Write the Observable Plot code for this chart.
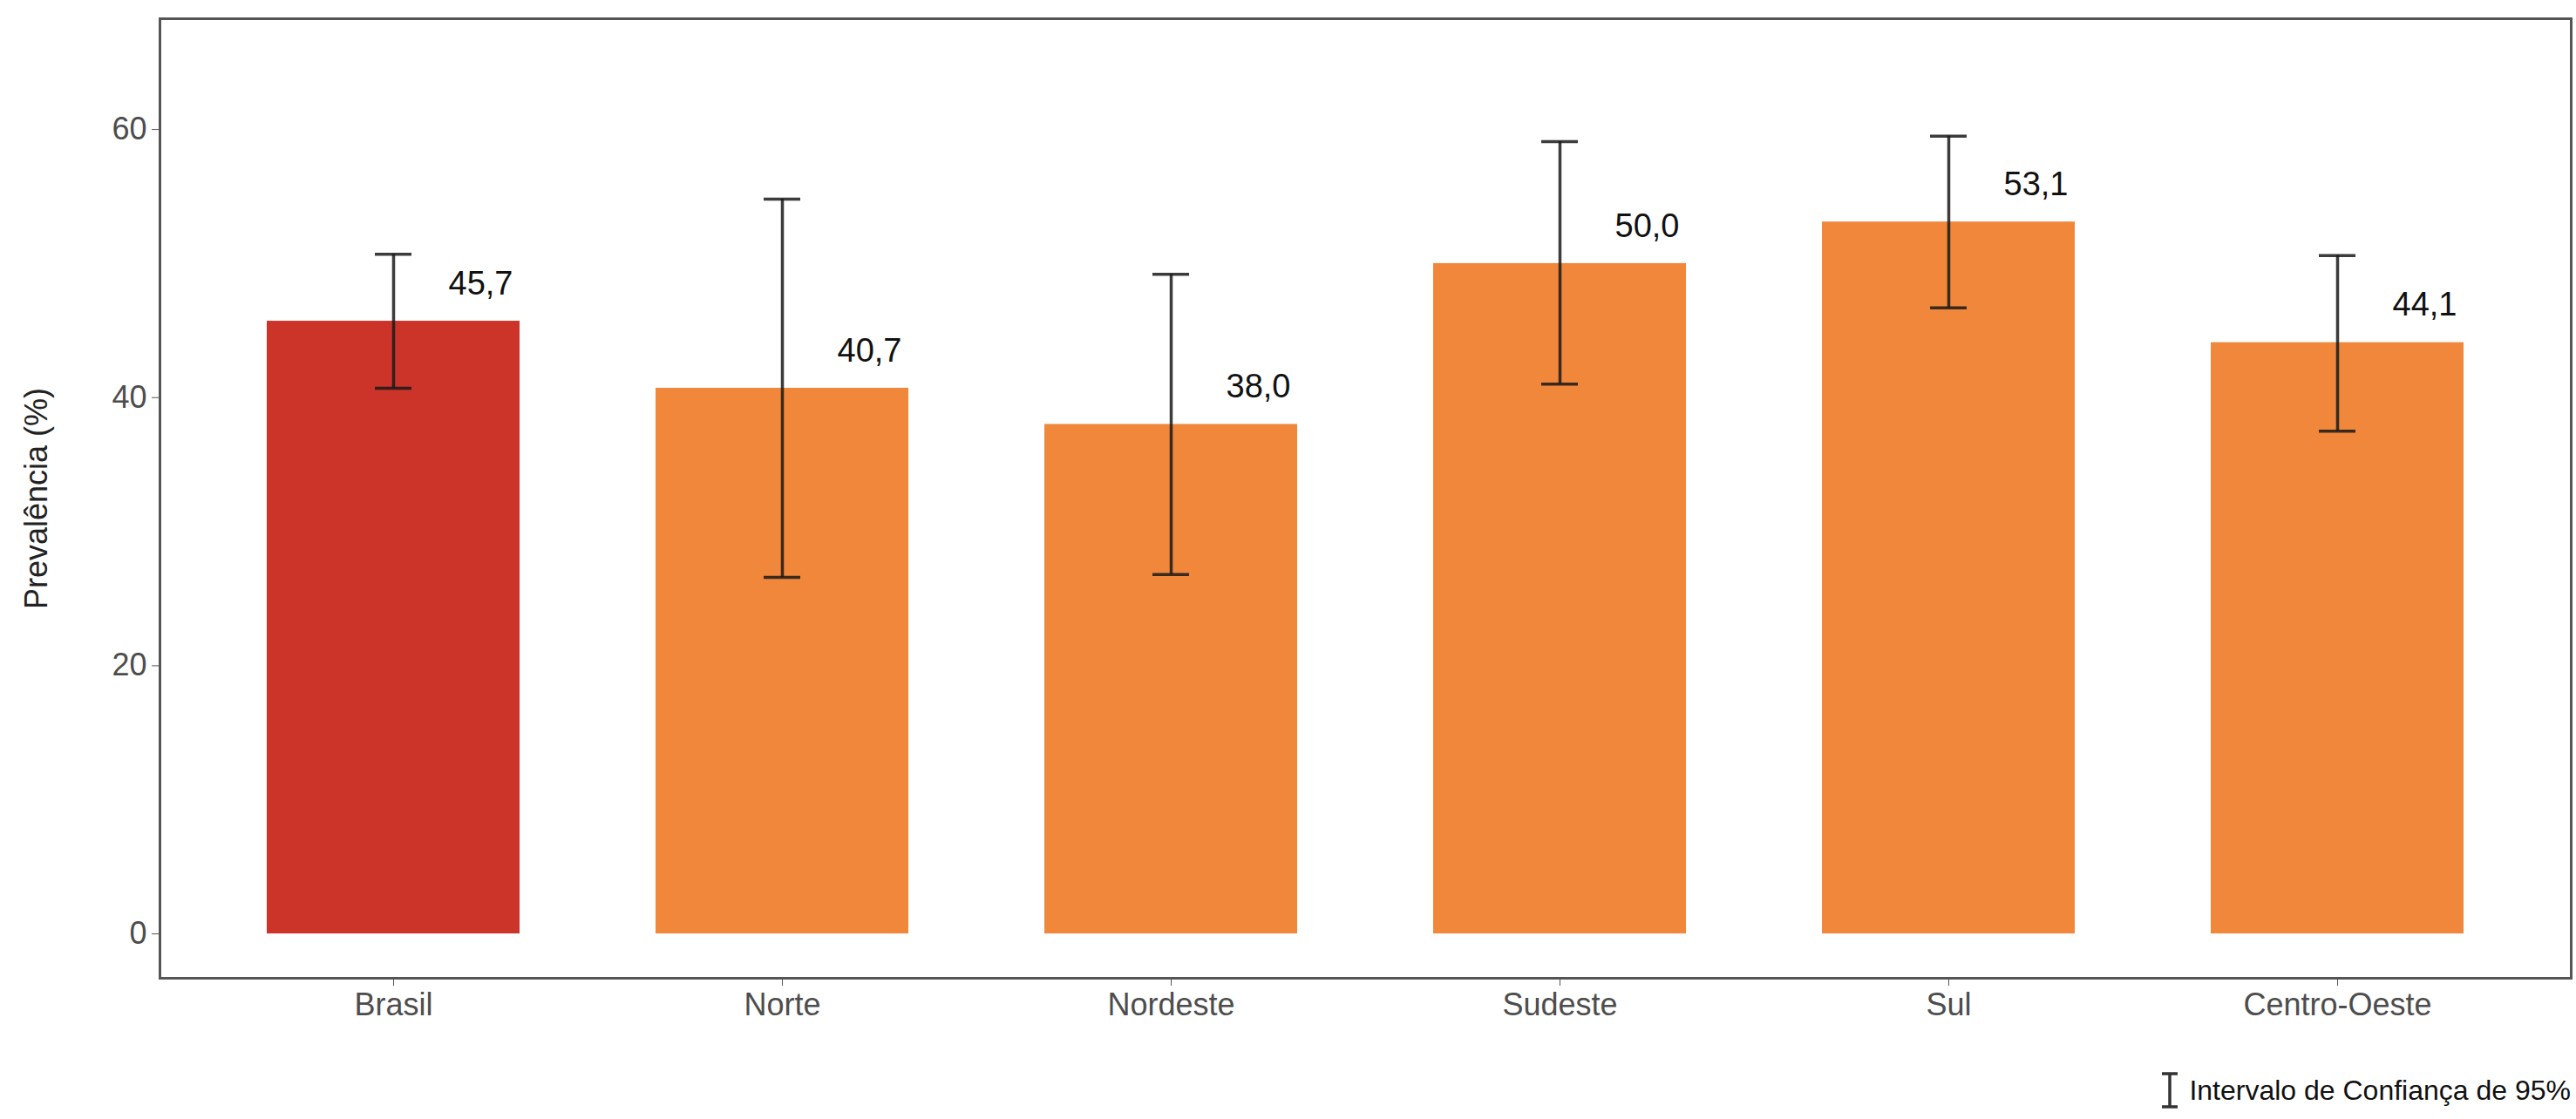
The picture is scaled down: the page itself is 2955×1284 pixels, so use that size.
<!DOCTYPE html>
<html>
<head>
<meta charset="utf-8">
<script src="https://cdn.jsdelivr.net/npm/d3@7"></script>
<script src="https://cdn.jsdelivr.net/npm/@observablehq/plot@0.6"></script>
<style>
  html, body { margin: 0; padding: 0; background: #fff; }
  body { width: 2955px; height: 1284px; overflow: hidden; font-family: "Liberation Sans", Arial, sans-serif; }
  #legend { position: relative; height: 84px; width: 2955px; }
  #legend .item { position: absolute; right: 6px; top: 30px; display: flex; align-items: center; gap: 10px; font-size: 32px; color: #111; }
</style>
</head>
<body>
<div id="chart"></div>
<div id="legend"><div class="item">
  <svg width="24" height="42" viewBox="0 0 24 42"><g stroke="#333" stroke-width="3.5"><line x1="3" x2="21" y1="2" y2="2"/><line x1="12" x2="12" y1="2" y2="40"/><line x1="3" x2="21" y1="40" y2="40"/></g></svg>
  <span>Intervalo de Confiança de 95%</span>
</div></div>
<script>
const regions = ["Brasil", "Norte", "Nordeste", "Sudeste", "Sul", "Centro-Oeste"];
const prevalence = [45.7, 40.7, 38.0, 50.0, 53.1, 44.1];
const ciLower = [40.7, 26.6, 26.8, 41.0, 46.7, 37.5];
const ciUpper = [50.7, 54.8, 49.2, 59.1, 59.5, 50.6];
const labels = ["45,7", "40,7", "38,0", "50,0", "53,1", "44,1"];
const yTicks = [0, 20, 40, 60];

const rows = regions.map((r, i) => ({
  region: r, value: prevalence[i], lo: ciLower[i], hi: ciUpper[i], label: labels[i],
  group: r === "Brasil" ? "Brasil" : "Região"
}));

const chart = Plot.plot({
  width: 2955,
  height: 1200,
  marginLeft: 183,
  marginRight: 6,
  marginTop: 21,
  marginBottom: 78,
  style: { fontFamily: "Liberation Sans, Arial, sans-serif", background: "#fff" },
  x: { domain: regions, paddingInner: 0.35, paddingOuter: 0.275, label: null },
  y: { domain: [-3.31, 68.26], label: null },
  color: { domain: ["Brasil", "Região"], range: ["#cd3429", "#f0873b"] },
  marks: [
    Plot.barY(rows, { x: "region", y1: 0, y2: "value", fill: "group" }),
    Plot.ruleX(rows, { x: "region", y1: "lo", y2: "hi", stroke: "#1a1a1a", strokeWidth: 3.5, strokeOpacity: 0.85 }),
    Plot.tickY(rows, { x: "region", y: "lo", stroke: "#1a1a1a", strokeWidth: 3.5, strokeOpacity: 0.85, insetLeft: 124, insetRight: 124 }),
    Plot.tickY(rows, { x: "region", y: "hi", stroke: "#1a1a1a", strokeWidth: 3.5, strokeOpacity: 0.85, insetLeft: 124, insetRight: 124 }),
    Plot.text(rows, { x: "region", y: "value", text: "label", dx: 100, dy: -43, fontSize: 38, fill: "#111", textAnchor: "middle" }),
    Plot.axisY({ ticks: yTicks, tickSize: 9, tickPadding: 6, fontSize: 36, color: "#4d4d4d", stroke: "#555", label: "Prevalência (%)", labelAnchor: "center", labelArrow: "none", labelOffset: 155 }),
    Plot.axisX({ tickSize: 9, tickPadding: 8, fontSize: 36, color: "#4d4d4d", stroke: "#555", label: null }),
    Plot.frame({ stroke: "#555", strokeWidth: 3 })
  ]
});
chart.querySelectorAll("[aria-label='y-axis label'] text, g[aria-label='y-axis label']").forEach(el => el.setAttribute("fill", "#222"));
document.getElementById("chart").appendChild(chart);
</script>
</body>
</html>
